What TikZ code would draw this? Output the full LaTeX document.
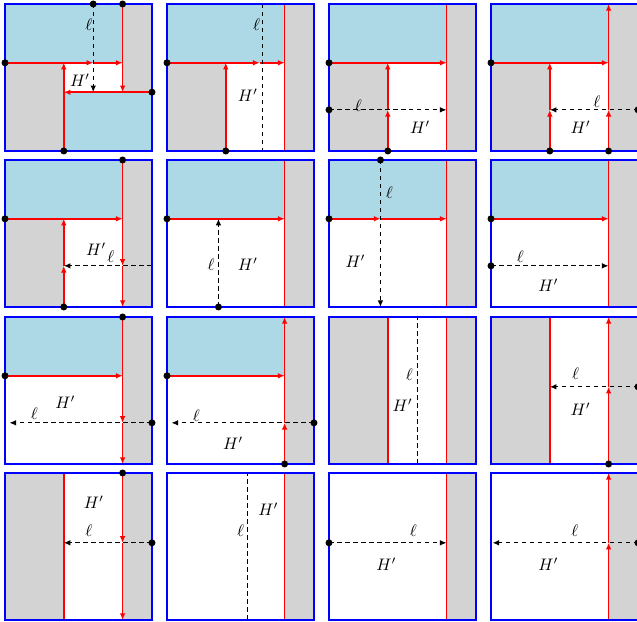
\documentclass[tikz,border=0pt]{standalone}
\usetikzlibrary{arrows.meta}
\definecolor{skyb}{RGB}{173,216,230}
\definecolor{pgray}{RGB}{211,211,211}
\tikzset{
  redl/.style={red, line width=1.05pt},
  rarr/.style={redl, -{Latex[length=4pt,width=3.4pt]}},
  dsh/.style={black, line width=0.75pt, dash pattern=on 2.7pt off 2.1pt},
  darr/.style={dsh, -{Latex[length=4pt,width=3.4pt]}},
  border/.style={blue, line width=1.25pt},
  lbl/.style={inner sep=0pt, font=\normalsize},
  pnl/.style 2 args={shift={(#1,#2)}, x=88.2pt, y=88.2pt},
  sky/.style={fill=skyb},
  gry/.style={fill=pgray}
}
\newcommand{\dotat}[1]{\fill[black] #1 circle (2.1pt);}
\begin{document}
\begin{tikzpicture}[x=0.6pt,y=0.6pt]
\useasboundingbox (0,0) rectangle (637,622);
% ---------- Row 1 ----------
\begin{scope}[pnl={5}{471}]
  \fill[sky] (0,0.6) rectangle (0.8,1);
  \fill[sky] (0.4,0) rectangle (1,0.4);
  \fill[gry] (0,0) rectangle (0.4,0.6);
  \fill[gry] (0.8,0.4) rectangle (1,1);
  \draw[rarr] (0,0.6)--(0.6,0.6);
  \draw[rarr] (0.6,0.6)--(0.8,0.6);
  \draw[rarr] (0.8,1)--(0.8,0.4);
  \draw[rarr] (1,0.4)--(0.4,0.4);
  \draw[rarr] (0.4,0)--(0.4,0.6);
  \draw[darr] (0.6,1)--(0.6,0.4);
  \node[lbl] (p1l) at (0.57,0.86) {$\ell$};
  \node[lbl] (p1h) at (0.51,0.48) {$H'$};
  \draw[border] (0,0) rectangle (1,1);
  \dotat{(0,0.6)} \dotat{(0.6,1)} \dotat{(0.8,1)} \dotat{(1,0.4)} \dotat{(0.4,0)}
\end{scope}
\begin{scope}[pnl={167}{471}]
  \fill[sky] (0,0.6) rectangle (0.8,1);
  \fill[gry] (0.8,0) rectangle (1,1);
  \fill[gry] (0,0) rectangle (0.4,0.6);
  \draw[rarr] (0,0.6)--(0.63,0.6);
  \draw[rarr] (0.63,0.6)--(0.8,0.6);
  \draw[redl] (0.8,0)--(0.8,1);
  \draw[rarr] (0.4,0)--(0.4,0.6);
  \draw[dsh] (0.65,1)--(0.65,0);
  \node[lbl] (p2l) at (0.61,0.86) {$\ell$};
  \node[lbl] (p2h) at (0.55,0.38) {$H'$};
  \draw[border] (0,0) rectangle (1,1);
  \dotat{(0,0.6)} \dotat{(0.4,0)}
\end{scope}
\begin{scope}[pnl={329}{471}]
  \fill[sky] (0,0.6) rectangle (0.8,1);
  \fill[gry] (0.8,0) rectangle (1,1);
  \fill[gry] (0,0) rectangle (0.4,0.6);
  \draw[rarr] (0,0.6)--(0.8,0.6);
  \draw[redl] (0.8,0)--(0.8,1);
  \draw[rarr] (0.4,0)--(0.4,0.28);
  \draw[rarr] (0.4,0.28)--(0.4,0.6);
  \draw[darr] (0,0.28)--(0.8,0.28);
  \node[lbl] (p3l) at (0.2,0.31) {$\ell$};
  \node[lbl] (p3h) at (0.62,0.16) {$H'$};
  \draw[border] (0,0) rectangle (1,1);
  \dotat{(0,0.6)} \dotat{(0,0.28)} \dotat{(0.4,0)}
\end{scope}
\begin{scope}[pnl={491}{471}]
  \fill[sky] (0,0.6) rectangle (0.8,1);
  \fill[gry] (0.8,0) rectangle (1,1);
  \fill[gry] (0,0) rectangle (0.4,0.6);
  \draw[rarr] (0,0.6)--(0.8,0.6);
  \draw[rarr] (0.8,0)--(0.8,0.28);
  \draw[rarr] (0.8,0.28)--(0.8,1);
  \draw[rarr] (0.4,0)--(0.4,0.28);
  \draw[rarr] (0.4,0.28)--(0.4,0.6);
  \draw[darr] (1,0.28)--(0.4,0.28);
  \node[lbl] (p4l) at (0.72,0.335) {$\ell$};
  \node[lbl] (p4h) at (0.61,0.16) {$H'$};
  \draw[border] (0,0) rectangle (1,1);
  \dotat{(0,0.6)} \dotat{(0.4,0)} \dotat{(0.8,0)} \dotat{(1,0.28)}
\end{scope}
% ---------- Row 2 ----------
\begin{scope}[pnl={5}{315}]
  \fill[sky] (0,0.6) rectangle (0.8,1);
  \fill[gry] (0.8,0) rectangle (1,1);
  \fill[gry] (0,0) rectangle (0.4,0.6);
  \draw[rarr] (0,0.6)--(0.8,0.6);
  \draw[rarr] (0.8,1)--(0.8,0.28);
  \draw[rarr] (0.8,0.28)--(0.8,0);
  \draw[rarr] (0.4,0)--(0.4,0.28);
  \draw[rarr] (0.4,0.28)--(0.4,0.6);
  \draw[darr] (1,0.28)--(0.4,0.28);
  \node[lbl] (p5h) at (0.62,0.39) {$H'$};
  \node[lbl] (p5l) at (0.72,0.34) {$\ell$};
  \draw[border] (0,0) rectangle (1,1);
  \dotat{(0,0.6)} \dotat{(0.8,1)} \dotat{(0.4,0)}
\end{scope}
\begin{scope}[pnl={167}{315}]
  \fill[sky] (0,0.6) rectangle (0.8,1);
  \fill[gry] (0.8,0) rectangle (1,1);
  \draw[rarr] (0,0.6)--(0.8,0.6);
  \draw[redl] (0.8,0)--(0.8,1);
  \draw[darr] (0.35,0)--(0.35,0.6);
  \node[lbl] (p6l) at (0.3,0.29) {$\ell$};
  \node[lbl] (p6h) at (0.55,0.29) {$H'$};
  \draw[border] (0,0) rectangle (1,1);
  \dotat{(0,0.6)} \dotat{(0.35,0)}
\end{scope}
\begin{scope}[pnl={329}{315}]
  \fill[sky] (0,0.6) rectangle (0.8,1);
  \fill[gry] (0.8,0) rectangle (1,1);
  \draw[rarr] (0,0.6)--(0.35,0.6);
  \draw[rarr] (0.35,0.6)--(0.8,0.6);
  \draw[redl] (0.8,0)--(0.8,1);
  \draw[darr] (0.35,1)--(0.35,0);
  \node[lbl] (p7l) at (0.41,0.78) {$\ell$};
  \node[lbl] (p7h) at (0.18,0.31) {$H'$};
  \draw[border] (0,0) rectangle (1,1);
  \dotat{(0,0.6)} \dotat{(0.35,1)}
\end{scope}
\begin{scope}[pnl={491}{315}]
  \fill[sky] (0,0.6) rectangle (0.8,1);
  \fill[gry] (0.8,0) rectangle (1,1);
  \draw[rarr] (0,0.6)--(0.8,0.6);
  \draw[redl] (0.8,0)--(0.8,1);
  \draw[darr] (0,0.28)--(0.8,0.28);
  \node[lbl] (p8l) at (0.2,0.34) {$\ell$};
  \node[lbl] (p8h) at (0.39,0.145) {$H'$};
  \draw[border] (0,0) rectangle (1,1);
  \dotat{(0,0.6)} \dotat{(0,0.28)}
\end{scope}
% ---------- Row 3 ----------
\begin{scope}[pnl={5}{158}]
  \fill[sky] (0,0.6) rectangle (0.8,1);
  \fill[gry] (0.8,0) rectangle (1,1);
  \draw[rarr] (0,0.6)--(0.8,0.6);
  \draw[rarr] (0.8,1)--(0.8,0.28);
  \draw[rarr] (0.8,0.28)--(0.8,0);
  \draw[darr] (1,0.28)--(0.03,0.28);
  \node[lbl] (p9h) at (0.41,0.42) {$H'$};
  \node[lbl] (p9l) at (0.2,0.34) {$\ell$};
  \draw[border] (0,0) rectangle (1,1);
  \dotat{(0,0.6)} \dotat{(0.8,1)} \dotat{(1,0.28)}
\end{scope}
\begin{scope}[pnl={167}{158}]
  \fill[sky] (0,0.6) rectangle (0.8,1);
  \fill[gry] (0.8,0) rectangle (1,1);
  \draw[rarr] (0,0.6)--(0.8,0.6);
  \draw[rarr] (0.8,0)--(0.8,0.28);
  \draw[rarr] (0.8,0.28)--(0.8,1);
  \draw[darr] (1,0.28)--(0.03,0.28);
  \node[lbl] (p10l) at (0.2,0.33) {$\ell$};
  \node[lbl] (p10h) at (0.45,0.14) {$H'$};
  \draw[border] (0,0) rectangle (1,1);
  \dotat{(0,0.6)} \dotat{(0.8,0)} \dotat{(1,0.28)}
\end{scope}
\begin{scope}[pnl={329}{158}]
  \fill[gry] (0,0) rectangle (0.4,1);
  \fill[gry] (0.8,0) rectangle (1,1);
  \draw[redl] (0.4,0)--(0.4,1);
  \draw[redl] (0.8,0)--(0.8,1);
  \draw[dsh] (0.6,0)--(0.6,1);
  \node[lbl] (p11l) at (0.547,0.61) {$\ell$};
  \node[lbl] (p11h) at (0.5,0.4) {$H'$};
  \draw[border] (0,0) rectangle (1,1);
\end{scope}
\begin{scope}[pnl={491}{158}]
  \fill[gry] (0,0) rectangle (0.4,1);
  \fill[gry] (0.8,0) rectangle (1,1);
  \draw[redl] (0.4,0)--(0.4,1);
  \draw[rarr] (0.8,0)--(0.8,0.525);
  \draw[rarr] (0.8,0.525)--(0.8,1);
  \draw[darr] (1,0.525)--(0.4,0.525);
  \node[lbl] (p12l) at (0.576,0.617) {$\ell$};
  \node[lbl] (p12h) at (0.61,0.37) {$H'$};
  \draw[border] (0,0) rectangle (1,1);
  \dotat{(0.8,0)} \dotat{(1,0.525)}
\end{scope}
% ---------- Row 4 ----------
\begin{scope}[pnl={5}{2}]
  \fill[gry] (0,0) rectangle (0.4,1);
  \fill[gry] (0.8,0) rectangle (1,1);
  \draw[redl] (0.4,0)--(0.4,1);
  \draw[rarr] (0.8,1)--(0.8,0.525);
  \draw[rarr] (0.8,0.525)--(0.8,0);
  \draw[darr] (1,0.525)--(0.4,0.525);
  \node[lbl] (p13h) at (0.605,0.8) {$H'$};
  \node[lbl] (p13l) at (0.57,0.61) {$\ell$};
  \draw[border] (0,0) rectangle (1,1);
  \dotat{(0.8,1)} \dotat{(1,0.525)}
\end{scope}
\begin{scope}[pnl={167}{2}]
  \fill[gry] (0.8,0) rectangle (1,1);
  \draw[redl] (0.8,0)--(0.8,1);
  \draw[dsh] (0.55,0)--(0.55,1);
  \node[lbl] (p14l) at (0.5,0.61) {$\ell$};
  \node[lbl] (p14h) at (0.69,0.755) {$H'$};
  \draw[border] (0,0) rectangle (1,1);
\end{scope}
\begin{scope}[pnl={329}{2}]
  \fill[gry] (0.8,0) rectangle (1,1);
  \draw[redl] (0.8,0)--(0.8,1);
  \draw[darr] (0,0.525)--(0.8,0.525);
  \node[lbl] (p15l) at (0.573,0.61) {$\ell$};
  \node[lbl] (p15h) at (0.39,0.38) {$H'$};
  \draw[border] (0,0) rectangle (1,1);
  \dotat{(0,0.525)}
\end{scope}
\begin{scope}[pnl={491}{2}]
  \fill[gry] (0.8,0) rectangle (1,1);
  \draw[rarr] (0.8,0)--(0.8,0.525);
  \draw[rarr] (0.8,0.525)--(0.8,1);
  \draw[darr] (1,0.525)--(0.01,0.525);
  \node[lbl] (p16l) at (0.57,0.61) {$\ell$};
  \node[lbl] (p16h) at (0.39,0.38) {$H'$};
  \draw[border] (0,0) rectangle (1,1);
  \dotat{(1,0.525)}
\end{scope}
\end{tikzpicture}
\end{document}
